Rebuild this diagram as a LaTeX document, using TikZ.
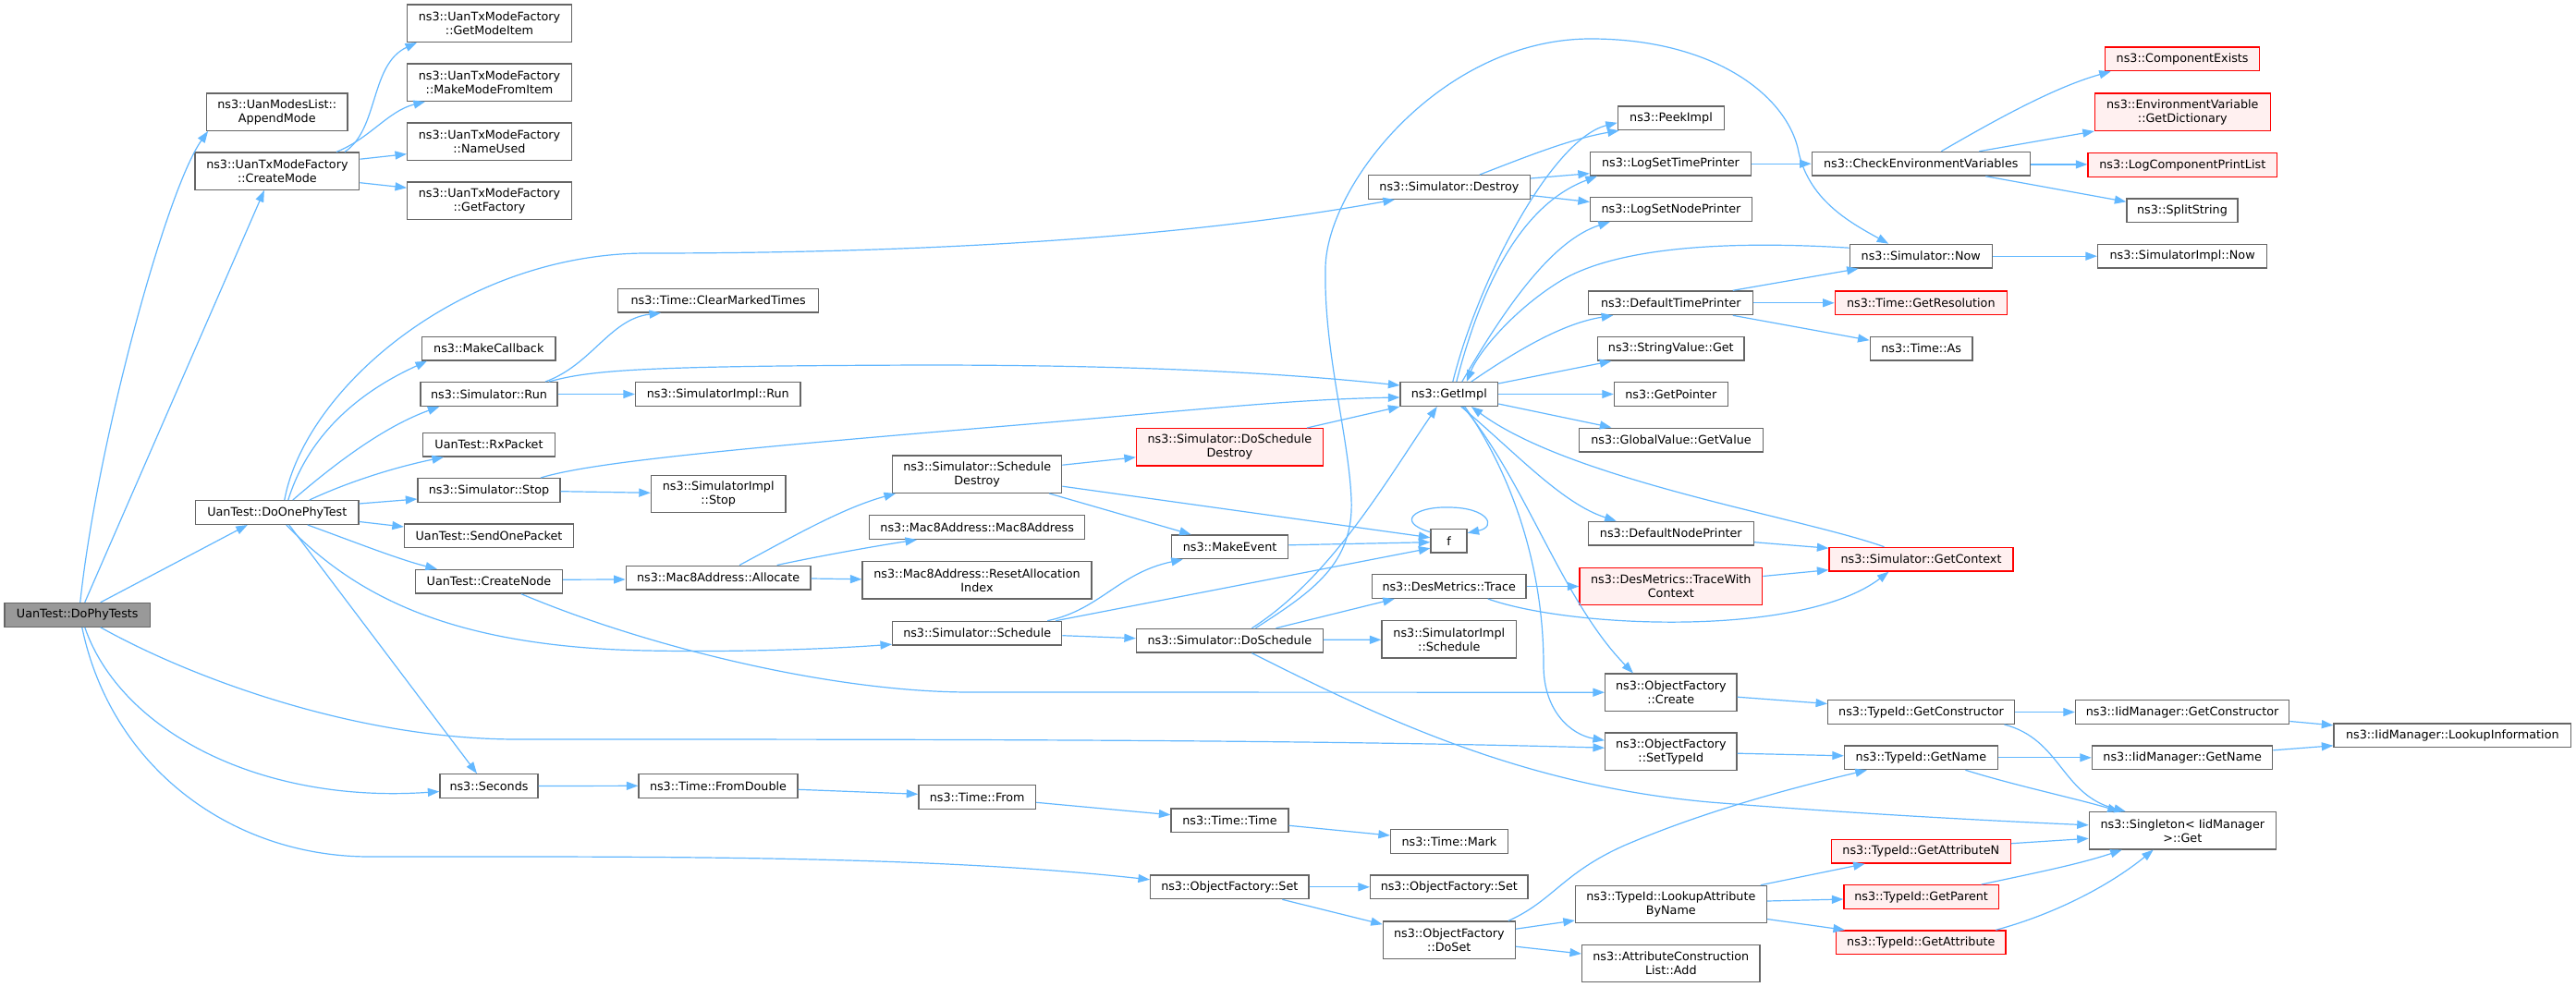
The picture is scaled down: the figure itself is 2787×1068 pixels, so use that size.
\documentclass[tikz,border=0pt]{standalone}
\usepackage{fontspec}
\setmainfont{DejaVu Sans}
\usetikzlibrary{arrows.meta,calc}
\definecolor{edgec}{HTML}{63B8FF}
\definecolor{bord}{HTML}{666666}
\definecolor{rootf}{HTML}{999999}
\definecolor{redf}{HTML}{FFF0F0}
\begin{document}
\begin{tikzpicture}[x=1pt,y=-1pt,
  nd/.style={draw=bord, fill=white, line width=1.3pt, inner sep=0pt, align=center, font=\fontsize{12.75}{15}\selectfont, text=black},
  ndred/.style={nd, draw=red, fill=redf},
  ndroot/.style={nd, fill=rootf},
  one/.style={minimum height=25.7pt},
  two/.style={minimum height=40.3pt},
  edg/.style={draw=edgec, line width=1.2pt, -{Triangle[length=12.5pt,width=9pt]}}
]
\useasboundingbox (0,0) rectangle (2787,1068);
\fill[white] (0,0) rectangle (2787,1068);

% column 0
\node[ndroot, one, minimum width=157.5pt] (dophy) at (83.75,665.3) {UanTest::DoPhyTests};
% column 1
\node[nd, two, minimum width=152.2pt] (append) at (299.8,121.2) {ns3::UanModesList::\\AppendMode};
\node[nd, two, minimum width=177.8pt] (createmode) at (299.9,185.2) {ns3::UanTxModeFactory\\::CreateMode};
\node[nd, one, minimum width=176.4pt] (doone) at (299.8,554.5) {UanTest::DoOnePhyTest};
% column 2
\node[nd, two, minimum width=177.7pt] (getmodeitem) at (529.5,25.2) {ns3::UanTxModeFactory\\::GetModeItem};
\node[nd, two, minimum width=177.7pt] (makemode) at (529.5,89.2) {ns3::UanTxModeFactory\\::MakeModeFromItem};
\node[nd, two, minimum width=177.7pt] (nameused) at (529.5,153.2) {ns3::UanTxModeFactory\\::NameUsed};
\node[nd, two, minimum width=177.7pt] (getfactory) at (529.5,217.2) {ns3::UanTxModeFactory\\::GetFactory};
\node[nd, one, minimum width=144.2pt] (makecb) at (528.8,377.2) {ns3::MakeCallback};
\node[nd, one, minimum width=148pt] (simrun) at (529,426.5) {ns3::Simulator::Run};
\node[nd, one, minimum width=142.8pt] (rx) at (529,481.2) {UanTest::RxPacket};
\node[nd, one, minimum width=154pt] (simstop) at (529,530.5) {ns3::Simulator::Stop};
\node[nd, one, minimum width=183pt] (sendone) at (529,579.8) {UanTest::SendOnePacket};
\node[nd, one, minimum width=159pt] (createnode) at (529,629.2) {UanTest::CreateNode};
\node[nd, one, minimum width=106pt] (seconds) at (529,850.5) {ns3::Seconds};
% column 3
\node[nd, one, minimum width=217pt] (clearmarked) at (777.2,325.2) {ns3::Time::ClearMarkedTimes};
\node[nd, one, minimum width=178.5pt] (implrun) at (776.8,426.5) {ns3::SimulatorImpl::Run};
\node[nd, two, minimum width=145.5pt] (implstop) at (777.2,534.5) {ns3::SimulatorImpl\\::Stop};
\node[nd, one, minimum width=199.8pt] (allocate) at (777.1,625) {ns3::Mac8Address::Allocate};
\node[nd, one, minimum width=172pt] (fromdouble) at (777,850.3) {ns3::Time::FromDouble};
% column 4
\node[nd, two, minimum width=183.1pt] (schdestroy) at (1057.2,513.2) {ns3::Simulator::Schedule\\Destroy};
\node[nd, one, minimum width=233.1pt] (mac8) at (1057.2,570.5) {ns3::Mac8Address::Mac8Address};
\node[nd, two, minimum width=248pt] (resetalloc) at (1057,627.8) {ns3::Mac8Address::ResetAllocation\\Index};
\node[nd, one, minimum width=183.1pt] (schedule) at (1057.2,685.2) {ns3::Simulator::Schedule};
\node[nd, one, minimum width=126.7pt] (timefrom) at (1057.2,862.3) {ns3::Time::From};
% column 5
\node[ndred, two, minimum width=201.8pt] (doschdestroy) at (1330.4,483.8) {ns3::Simulator::DoSchedule\\Destroy};
\node[nd, one, minimum width=126.4pt] (makeevent) at (1330.6,591.8) {ns3::MakeEvent};
\node[nd, one, minimum width=201.8pt] (doschedule) at (1330.4,693.2) {ns3::Simulator::DoSchedule};
\node[nd, one, minimum width=127pt] (timetime) at (1330.5,887.7) {ns3::Time::Time};
\node[nd, one, minimum width=171.4pt] (ofset1) at (1330.3,959.8) {ns3::ObjectFactory::Set};
% column 6
\node[nd, one, minimum width=175pt] (simdestroy) at (1567.9,202.5) {ns3::Simulator::Destroy};
\node[nd, one, minimum width=105.5pt] (getimpl) at (1567.8,426.5) {ns3::GetImpl};
\node[nd, one, minimum width=39pt] (f) at (1567.5,585.2) {f};
\node[nd, one, minimum width=166.6pt] (trace) at (1567.7,634.5) {ns3::DesMetrics::Trace};
\node[nd, two, minimum width=145.6pt] (implschedule) at (1567.8,691.8) {ns3::SimulatorImpl\\::Schedule};
\node[nd, one, minimum width=126.8pt] (timemark) at (1567.9,910.5) {ns3::Time::Mark};
\node[nd, one, minimum width=170.4pt] (ofset2) at (1567.8,959.8) {ns3::ObjectFactory::Set};
\node[nd, two, minimum width=142.9pt] (doset) at (1567.8,1017.2) {ns3::ObjectFactory\\::DoSet};
% column 7
\node[nd, one, minimum width=115.2pt] (peekimpl) at (1808,127.8) {ns3::PeekImpl};
\node[nd, one, minimum width=174pt] (logtime) at (1807.5,177.2) {ns3::LogSetTimePrinter};
\node[nd, one, minimum width=175pt] (lognode) at (1808,226.5) {ns3::LogSetNodePrinter};
\node[nd, one, minimum width=178pt] (deftime) at (1807.8,327.8) {ns3::DefaultTimePrinter};
\node[nd, one, minimum width=158.4pt] (stringget) at (1807.8,377.2) {ns3::StringValue::Get};
\node[nd, one, minimum width=122.8pt] (getpointer) at (1807.8,426.5) {ns3::GetPointer};
\node[nd, one, minimum width=199pt] (globalget) at (1808,476) {ns3::GlobalValue::GetValue};
\node[nd, one, minimum width=179pt] (defnode) at (1807.8,577.2) {ns3::DefaultNodePrinter};
\node[ndred, two, minimum width=197.7pt] (tracectx) at (1807.8,634.5) {ns3::DesMetrics::TraceWith\\Context};
\node[nd, two, minimum width=142.4pt] (ofcreate) at (1807.8,749.2) {ns3::ObjectFactory\\::Create};
\node[nd, two, minimum width=142.4pt] (ofsettypeid) at (1807.8,813.2) {ns3::ObjectFactory\\::SetTypeId};
\node[nd, two, minimum width=206.7pt] (lookupattr) at (1807.8,978.5) {ns3::TypeId::LookupAttribute\\ByName};
\node[nd, two, minimum width=192.4pt] (attradd) at (1807.8,1042.5) {ns3::AttributeConstruction\\List::Add};
% column 8
\node[nd, one, minimum width=236.1pt] (checkenv) at (2078.3,177.2) {ns3::CheckEnvironmentVariables};
\node[nd, one, minimum width=153.9pt] (simnow) at (2078.2,277.2) {ns3::Simulator::Now};
\node[ndred, one, minimum width=186.1pt] (getres) at (2078.3,327.8) {ns3::Time::GetResolution};
\node[nd, one, minimum width=110.8pt] (timeas) at (2078.6,377.2) {ns3::Time::As};
\node[ndred, one, minimum width=199pt] (getcontext) at (2078.5,605.2) {ns3::Simulator::GetContext};
\node[nd, one, minimum width=201.6pt] (tgetctor) at (2078.5,770.5) {ns3::TypeId::GetConstructor};
\node[nd, one, minimum width=165.8pt] (tgetname) at (2078.4,819.8) {ns3::TypeId::GetName};
\node[ndred, one, minimum width=194pt] (getattrn) at (2078.3,921.2) {ns3::TypeId::GetAttributeN};
\node[ndred, one, minimum width=167.2pt] (getparent) at (2078.6,970.5) {ns3::TypeId::GetParent};
\node[ndred, one, minimum width=183.4pt] (getattr) at (2078.3,1019.8) {ns3::TypeId::GetAttribute};
% column 9
\node[ndred, one, minimum width=167.4pt] (compexists) at (2361.1,63.8) {ns3::ComponentExists};
\node[ndred, two, minimum width=189.7pt] (getdict) at (2361.3,121.2) {ns3::EnvironmentVariable\\::GetDictionary};
\node[ndred, one, minimum width=204.7pt] (logcomp) at (2361.3,178.5) {ns3::LogComponentPrintList};
\node[nd, one, minimum width=120pt] (splitstr) at (2361,227.8) {ns3::SplitString};
\node[nd, one, minimum width=183.1pt] (implnow) at (2361.1,277.2) {ns3::SimulatorImpl::Now};
\node[nd, one, minimum width=231.3pt] (iidctor) at (2361.1,770.5) {ns3::IidManager::GetConstructor};
\node[nd, one, minimum width=195.4pt] (iidname) at (2361.1,819.8) {ns3::IidManager::GetName};
\node[nd, two, minimum width=201.9pt] (singleton) at (2361.3,898.8) {ns3::Singleton< IidManager\\>::Get};
% column 10
\node[nd, one, minimum width=256.7pt] (lookupinfo) at (2653.3,795.8) {ns3::IidManager::LookupInformation};

% ---- edges ----
% DoPhyTests
\draw[edg] ($(dophy.north)+(3,0)$) .. controls (105,480) and (180,205) .. ($(append.south west)+(2,0)$);
\draw[edg] ($(dophy.north)+(8,0)$) -- ($(createmode.south)+(-14,0)$);
\draw[edg] ($(dophy.north)+(25,0)$) -- ($(doone.south)+(-32,0)$);
\draw[edg] ($(dophy.south)+(8,0)$) .. controls (130,790) and (280,870) .. ($(seconds.west)+(0,6)$);
\draw[edg] ($(dophy.south)+(5,0)$) .. controls (120,830) and (250,927) .. (400,927) .. controls (700,927) and (1000,925) .. ($(ofset1.west)+(0,-8)$);
\draw[edg] ($(dophy.south)+(25,0)$) .. controls (200,730) and (380,800) .. (560,800) .. controls (1000,800) and (1400,800) .. ($(ofsettypeid.west)+(0,-4)$);
% CreateMode
\draw[edg] ($(createmode.north)+(73,0)$) .. controls (410,140) and (400,70) .. ($(getmodeitem.south west)+(11,0)$);
\draw[edg] ($(createmode.north)+(64,0)$) .. controls (400,150) and (420,120) .. ($(makemode.south west)+(20,0)$);
\draw[edg] ($(createmode.east)+(0,-13)$) -- ($(nameused.west)+(0,13.5)$);
\draw[edg] ($(createmode.east)+(0,12.5)$) -- ($(getfactory.west)+(0,-14)$);
% DoOnePhyTest
\draw[edg] ($(doone.north)+(8,0)$) .. controls (330,420) and (500,274) .. (700,274) .. controls (1100,274) and (1350,245) .. ($(simdestroy.south)+(-59,0)$);
\draw[edg] ($(doone.north)+(12,0)$) .. controls (340,450) and (420,410) .. ($(makecb.south west)+(6,0)$);
\draw[edg] ($(doone.north)+(17,0)$) .. controls (370,495) and (420,460) .. ($(simrun.south west)+(21,0)$);
\draw[edg] ($(doone.north)+(35,0)$) .. controls (380,520) and (430,505) .. ($(rx.south west)+(23,0)$);
\draw[edg] ($(doone.east)+(0,-9.5)$) -- ($(simstop.west)+(0,9.5)$);
\draw[edg] ($(doone.east)+(0,10)$) -- ($(sendone.west)+(0,-9.8)$);
\draw[edg] ($(doone.south)+(33,0)$) .. controls (380,585) and (430,605) .. ($(createnode.north west)+(24,0)$);
\draw[edg] ($(doone.south)+(13,0)$) -- ($(seconds.north)+(-13,0)$);
\draw[edg] ($(doone.south)+(10,0)$) .. controls (380,640) and (480,700) .. (700,704) .. controls (800,706) and (900,702) .. ($(schedule.west)+(0,12)$);
% CreateNode
\draw[edg] ($(createnode.east)+(0,-2)$) -- ($(allocate.west)+(0,2)$);
\draw[edg] ($(createnode.south)+(35,0)$) .. controls (700,700) and (900,749) .. (1050,749) -- (ofcreate.west);
% Simulator::Run
\draw[edg] ($(simrun.north)+(61,0)$) .. controls (640,395) and (660,345) .. ($(clearmarked.south west)+(47,0)$);
\draw[edg] ($(simrun.north)+(65,0)$) .. controls (640,400) and (700,396) .. (1000,395) .. controls (1250,395) and (1400,405) .. ($(getimpl.west)+(0,-9.5)$);
\draw[edg] (simrun.east) -- (implrun.west);
% Simulator::Stop
\draw[edg] ($(simstop.north)+(56,0)$) .. controls (640,500) and (800,485) .. (1100,460) .. controls (1300,443) and (1400,432) .. ($(getimpl.west)+(0,3.5)$);
\draw[edg] ($(simstop.east)+(0,1.2)$) -- ($(implstop.west)+(0,-1.2)$);
% Allocate
\draw[edg] ($(allocate.north)+(23,0)$) .. controls (850,585) and (910,550) .. ($(schdestroy.south west)+(4,0)$);
\draw[edg] ($(allocate.north)+(63.5,0)$) .. controls (880,603) and (940,592) .. ($(mac8.south west)+(52,0)$);
\draw[edg] ($(allocate.east)+(0,1)$) -- ($(resetalloc.west)+(0,-1)$);
% ScheduleDestroy
\draw[edg] ($(schdestroy.east)+(0,-10)$) -- ($(doschdestroy.west)+(0,11)$);
\draw[edg] ($(schdestroy.south)+(78,0)$) -- ($(makeevent.north)+(-42,0)$);
\draw[edg] ($(schdestroy.east)+(0,13)$) -- ($(f.west)+(0,-3.5)$);
\draw[edg] ($(doschdestroy.north east)+(-18,0)$) -- (getimpl.south west);
% Schedule
\draw[edg] ($(schedule.north)+(76,0)$) .. controls (1190,660) and (1210,620) .. ($(makeevent.south west)+(13,0)$);
\draw[edg] ($(schedule.north)+(85,0)$) -- ($(f.west)+(0,8)$);
\draw[edg] ($(schedule.east)+(0,2.5)$) -- ($(doschedule.west)+(0,-2.5)$);
\draw[edg] ($(makeevent.east)+(0,-2)$) -- ($(f.west)+(0,1.5)$);
\draw[edg] ($(f.north west)+(0,4)$) .. controls (1510,565) and (1530,548) .. (1567,549) .. controls (1610,549) and (1620,570) .. ($(f.north east)+(0,5)$);
% DoSchedule
\draw[edg] ($(doschedule.north)+(24,0)$) .. controls (1440,625) and (1500,520) .. ($(getimpl.south)+(-13,0)$);
\draw[edg] ($(doschedule.north)+(28,0)$) .. controls (1420,640) and (1465,610) .. (1462,540) .. controls (1459,470) and (1432,380) .. (1434,290) .. controls (1435,200) and (1560,42) .. (1721,42) .. controls (1850,42) and (1930,100) .. (1945,160) .. controls (1955,215) and (2000,240) .. ($(simnow.north)+(-35,0)$);
\draw[edg] ($(doschedule.north)+(50,0)$) -- ($(trace.south west)+(25,0)$);
\draw[edg] ($(doschedule.east)+(0,-1)$) -- ($(implschedule.west)+(0,0.5)$);
\draw[edg] ($(doschedule.south)+(24,0)$) .. controls (1500,780) and (1650,850) .. (1850,868) .. controls (2000,880) and (2150,888) .. ($(singleton.west)+(0,-6)$);
% Trace
\draw[edg] (trace.east) -- (tracectx.west);
\draw[edg] ($(trace.south)+(42,0)$) .. controls (1700,680) and (1950,690) .. ($(getcontext.south)+(-35,0)$);
\draw[edg] ($(tracectx.east)+(0,-11)$) -- ($(getcontext.west)+(0,11.5)$);
\draw[edg] ($(defnode.east)+(0,9.5)$) -- ($(getcontext.west)+(0,-12)$);
\draw[edg] ($(getcontext.north)+(-40,0)$) .. controls (1950,560) and (1700,520) .. ($(getimpl.south)+(24,0)$);
% GetImpl
\draw[edg] ($(getimpl.north)+(4,0)$) .. controls (1600,300) and (1680,150) .. ($(peekimpl.west)+(0,5)$);
\draw[edg] ($(getimpl.north)+(8,0)$) .. controls (1605,300) and (1650,220) .. ($(logtime.south west)+(8,0)$);
\draw[edg] ($(getimpl.north)+(14,0)$) .. controls (1630,330) and (1680,260) .. ($(lognode.south west)+(22,0)$);
\draw[edg] ($(getimpl.north)+(24,0)$) .. controls (1640,380) and (1690,350) .. ($(deftime.south west)+(27,0)$);
\draw[edg] ($(simnow.west)+(0,-9)$) .. controls (1900,262) and (1760,262) .. (1690,303) .. controls (1640,333) and (1600,380) .. ($(getimpl.north)+(19,0)$);
\draw[edg] ($(getimpl.east)+(0,-11.5)$) -- ($(stringget.south west)+(15.4,0)$);
\draw[edg] (getimpl.east) -- (getpointer.west);
\draw[edg] ($(getimpl.east)+(0,10.5)$) -- ($(globalget.north west)+(35.5,0)$);
\draw[edg] ($(getimpl.south)+(13,0)$) .. controls (1640,490) and (1690,545) .. ($(defnode.north west)+(31,0)$);
\draw[edg] ($(getimpl.south)+(15,0)$) .. controls (1650,520) and (1690,650) .. ($(ofcreate.north west)+(31,0)$);
\draw[edg] ($(getimpl.south)+(17,0)$) .. controls (1640,520) and (1670,620) .. (1670,720) .. controls (1670,770) and (1700,795) .. ($(ofsettypeid.west)+(0,-12)$);
% Destroy
\draw[edg] ($(simdestroy.north)+(33,0)$) .. controls (1650,170) and (1700,150) .. ($(peekimpl.south west)+(2,0)$);
\draw[edg] ($(simdestroy.east)+(0,-9.5)$) -- ($(logtime.west)+(0,10.5)$);
\draw[edg] ($(simdestroy.east)+(0,9)$) -- ($(lognode.west)+(0,-8)$);
% log / env
\draw[edg] (logtime.east) -- (checkenv.west);
\draw[edg] ($(checkenv.north)+(22,0)$) .. controls (2150,135) and (2220,95) .. ($(compexists.south west)+(7,0)$);
\draw[edg] ($(checkenv.north)+(63,0)$) -- (getdict.south west);
\draw[edg] ($(checkenv.east)+(0,0.7)$) -- ($(logcomp.west)+(0,-0.6)$);
\draw[edg] ($(checkenv.south)+(70,0)$) -- ($(splitstr.west)+(0,-9.5)$);
% DefaultTimePrinter
\draw[edg] ($(deftime.north)+(67,0)$) -- ($(simnow.south west)+(10,0)$);
\draw[edg] (deftime.east) -- (getres.west);
\draw[edg] ($(deftime.south)+(67,0)$) -- ($(timeas.west)+(0,-9)$);
\draw[edg] (simnow.east) -- (implnow.west);
% ObjectFactory / TypeId
\draw[edg] ($(ofcreate.east)+(0,5)$) -- ($(tgetctor.west)+(0,-9)$);
\draw[edg] ($(ofsettypeid.east)+(0,2)$) -- ($(tgetname.west)+(0,-2)$);
\draw[edg] (tgetctor.east) -- (iidctor.west);
\draw[edg] ($(tgetctor.south)+(90,0)$) .. controls (2230,800) and (2230,860) .. ($(singleton.north west)+(40,0)$);
\draw[edg] (tgetname.east) -- (iidname.west);
\draw[edg] ($(tgetname.south)+(48,0)$) .. controls (2180,850) and (2250,865) .. ($(singleton.north west)+(33,0)$);
\draw[edg] ($(iidctor.east)+(0,10)$) -- ($(lookupinfo.west)+(0,-11)$);
\draw[edg] ($(iidname.east)+(0,-8)$) -- ($(lookupinfo.west)+(0,11)$);
\draw[edg] ($(getattrn.east)+(0,-8.5)$) -- ($(singleton.west)+(0,8.5)$);
\draw[edg] ($(getparent.north)+(65,0)$) .. controls (2200,945) and (2250,935) .. ($(singleton.south west)+(36,0)$);
\draw[edg] ($(getattr.north)+(81,0)$) .. controls (2220,990) and (2280,960) .. ($(singleton.south west)+(70,0)$);
\draw[edg] ($(lookupattr.north)+(97,0)$) -- ($(getattrn.south west)+(37,0)$);
\draw[edg] ($(lookupattr.east)+(0,-3.5)$) -- ($(getparent.west)+(0,2.5)$);
\draw[edg] ($(lookupattr.east)+(0,16)$) -- ($(getattr.north west)+(10,0)$);
\draw[edg] ($(doset.north)+(64,0)$) .. controls (1680,975) and (1690,945) .. (1757,915) .. controls (1850,875) and (1950,850) .. ($(tgetname.south west)+(25,0)$);
\draw[edg] ($(doset.east)+(0,-12)$) -- ($(lookupattr.west)+(0,17.5)$);
\draw[edg] ($(doset.east)+(0,7)$) -- ($(attradd.west)+(0,-10.5)$);
\draw[edg] (ofset1.east) -- (ofset2.west);
\draw[edg] ($(ofset1.south)+(57,0)$) -- ($(doset.west)+(0,-17)$);
% Time chain
\draw[edg] (seconds.east) -- (fromdouble.west);
\draw[edg] ($(fromdouble.east)+(0,4)$) -- ($(timefrom.west)+(0,-3)$);
\draw[edg] ($(timefrom.east)+(0,6)$) -- ($(timetime.west)+(0,-6)$);
\draw[edg] ($(timetime.east)+(0,5.6)$) -- ($(timemark.west)+(0,-6.5)$);
\end{tikzpicture}
\end{document}
